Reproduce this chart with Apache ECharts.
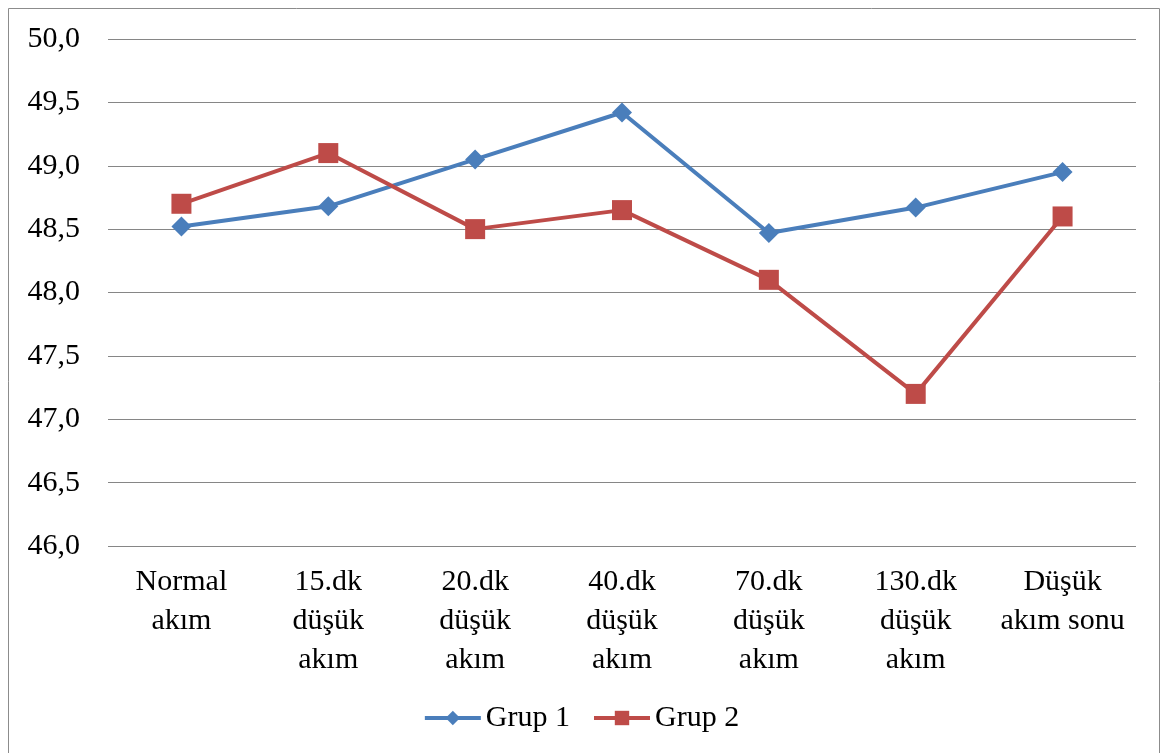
<!DOCTYPE html>
<html>
<head>
<meta charset="utf-8">
<script src="https://cdn.jsdelivr.net/npm/echarts@6/dist/echarts.min.js"></script>
<style>
  html, body { margin: 0; padding: 0; background: #fff; }
  #chart { width: 1162px; height: 753px; }
</style>
</head>
<body>
<div id="chart"></div>
<script>
// Measurement stages (line breaks as shown under the axis)
const categories = [
  'Normal\nakım',
  '15.dk\ndüşük\nakım',
  '20.dk\ndüşük\nakım',
  '40.dk\ndüşük\nakım',
  '70.dk\ndüşük\nakım',
  '130.dk\ndüşük\nakım',
  'Düşük\nakım sonu'
];
const grup1 = [48.52, 48.68, 49.05, 49.42, 48.47, 48.67, 48.95];
const grup2 = [48.70, 49.10, 48.50, 48.65, 48.10, 47.20, 48.60];
const seriesNames = ['Grup 1', 'Grup 2'];

const FONT = 'Liberation Serif';

const chart = echarts.init(document.getElementById('chart'), null, { renderer: 'canvas' });
chart.setOption({
  animation: false,
  backgroundColor: '#fff',
  textStyle: { fontFamily: FONT },
  graphic: [{
    type: 'rect',
    shape: { x: 8.5, y: 8.5, width: 1151, height: 760 },
    style: { fill: 'none', stroke: '#8c8c8c', lineWidth: 1 },
    silent: true
  }],
  grid: { left: 108, right: 26, top: 39, bottom: 207 },
  legend: {
    bottom: 15,
    left: 'center',
    itemWidth: 56,
    itemHeight: 18,
    itemGap: 22,
    lineStyle: { width: 4 },
    textStyle: { fontFamily: FONT, fontSize: 30, color: '#000' },
    data: seriesNames
  },
  xAxis: {
    type: 'category',
    data: categories,
    boundaryGap: true,
    axisLine: { show: false },
    axisTick: { show: false },
    axisLabel: {
      interval: 0,
      margin: 17,
      fontFamily: FONT,
      fontSize: 30,
      lineHeight: 39,
      color: '#000',
      align: 'center'
    }
  },
  yAxis: {
    type: 'value',
    min: 46,
    max: 50,
    interval: 0.5,
    axisLine: { show: false },
    axisTick: { show: false },
    axisLabel: {
      margin: 28,
      fontFamily: FONT,
      fontSize: 30,
      color: '#000',
      formatter: v => v.toFixed(1).replace('.', ',')
    },
    splitLine: { lineStyle: { color: '#868686', width: 1 } }
  },
  series: [
    {
      name: seriesNames[0],
      type: 'line',
      data: grup1,
      symbol: 'diamond',
      symbolSize: 20,
      lineStyle: { color: '#4A7EBB', width: 4 },
      itemStyle: { color: '#4A7EBB' }
    },
    {
      name: seriesNames[1],
      type: 'line',
      data: grup2,
      symbol: 'rect',
      symbolSize: 20,
      lineStyle: { color: '#BE4B48', width: 4 },
      itemStyle: { color: '#BE4B48' }
    }
  ]
});
</script>
</body>
</html>
